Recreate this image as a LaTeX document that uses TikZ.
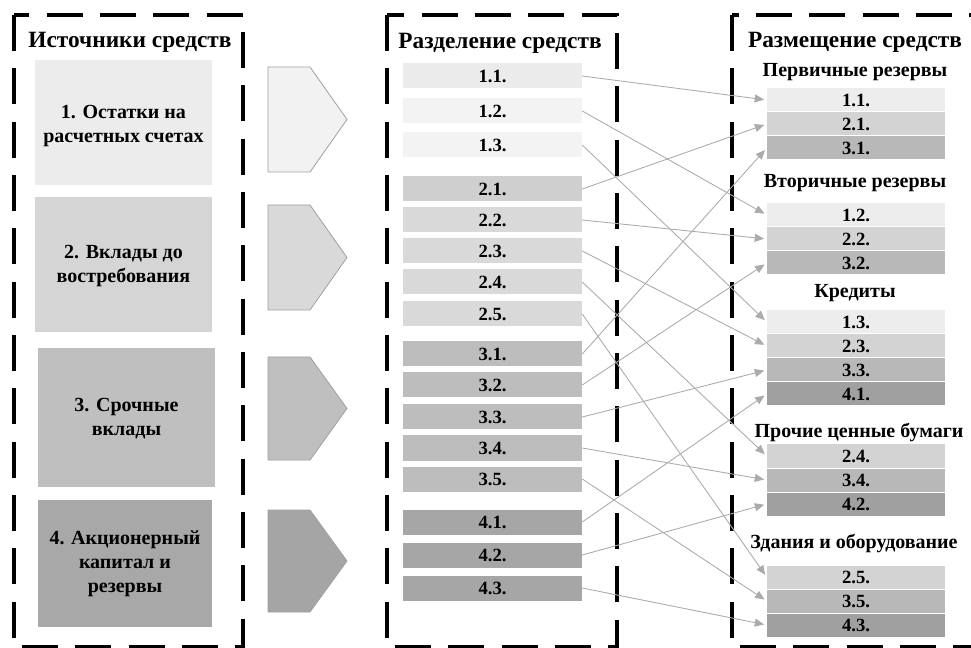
\documentclass[tikz,border=0pt]{standalone}
\usepackage{fontspec}
\setmainfont{Liberation Serif}
\usetikzlibrary{arrows.meta}
\definecolor{sA}{HTML}{ECECEC}
\definecolor{sB}{HTML}{D5D5D5}
\definecolor{sC}{HTML}{BFBFBF}
\definecolor{sD}{HTML}{A8A8A8}
\definecolor{mA}{HTML}{EBEBEB}
\definecolor{mAl}{HTML}{F3F3F3}
\definecolor{mBd}{HTML}{CFCFCF}
\definecolor{mB}{HTML}{D9D9D9}
\definecolor{mC}{HTML}{BDBDBD}
\definecolor{mD}{HTML}{A6A6A6}
\definecolor{rA}{HTML}{EDEDED}
\definecolor{rB}{HTML}{D3D3D3}
\definecolor{rC}{HTML}{B8B8B8}
\definecolor{rD}{HTML}{A0A0A0}
\definecolor{pA}{HTML}{F2F2F2}
\definecolor{pB}{HTML}{D9D9D9}
\definecolor{pC}{HTML}{BFBFBF}
\definecolor{pD}{HTML}{A5A5A5}
\definecolor{conncol}{HTML}{ABABAB}
\definecolor{edgecol}{HTML}{A0A0A0}
\begin{document}
\begin{tikzpicture}[x=0.75pt,y=-0.75pt,
  frame/.style={line width=3pt,dash pattern=on 27pt off 13pt,black},
  title/.style={font=\bfseries\fontsize{17.5}{19}\selectfont,inner sep=0},
  srctext/.style={font=\bfseries\fontsize{15}{18}\selectfont,align=center,inner sep=0},
  midbar/.style={minimum width=179*0.75pt,minimum height=25*0.75pt,inner sep=0,
     font=\bfseries\fontsize{14}{14}\selectfont},
  rbar/.style={minimum width=178*0.75pt,minimum height=23*0.75pt,inner sep=0,
     font=\bfseries\fontsize{14}{14}\selectfont},
  rhead/.style={font=\bfseries\fontsize{15}{16}\selectfont,inner sep=0},
  chev/.style={draw=edgecol,line width=0.6pt},
  conn/.style={draw=conncol,line width=0.65pt,shorten >=2pt,
     -{Triangle[length=7pt,width=6pt]}}]
\useasboundingbox (0,0) rectangle (971,648);
\clip (0,0) rectangle (971,648);
\fill[white] (0,0) rectangle (971,648);

% frames
\draw[frame] (14,15) rectangle (243,647);
\draw[frame] (387,15) rectangle (617,647);
\draw[frame] (732,15) rectangle (1010,647);

% titles
\node[title] (t1) at (130,42) {Источники средств};
\node[title] (t2) at (500,43) {Разделение средств};
\node[title] (t3) at (855,42) {Размещение средств};

% source boxes
\fill[sA] (35,60) rectangle (212,185);
\fill[sB] (35,197) rectangle (212,332);
\fill[sC] (38,348) rectangle (215,487);
\fill[sD] (38,500) rectangle (212,627);
\node[srctext] (s1) at (123.5,126) {1. Остатки на\\расчетных счетах};
\node[srctext] (s2) at (123.5,266) {2. Вклады до\\востребования};
\node[srctext] (s3) at (126.5,419) {3. Срочные\\вклады};
\node[srctext] (s4) at (125,564) {4. Акционерный\\капитал и\\резервы};

% chevrons
\draw[chev,fill=pA] (268,67) -- (310,67) -- (347,119.5) -- (310,172) -- (268,172) -- cycle;
\draw[chev,fill=pB] (268,205) -- (310,205) -- (347,257.5) -- (310,310) -- (268,310) -- cycle;
\draw[chev,fill=pC] (268,357) -- (310,357) -- (347,408.5) -- (310,460) -- (268,460) -- cycle;
\draw[chev,fill=pD] (268,510) -- (310,510) -- (347,561) -- (310,612) -- (268,612) -- cycle;

% middle bars
\node[midbar,fill=mA]  (m11) at (492.5,76) {1.1.};
\node[midbar,fill=mAl] (m12) at (492.5,111) {1.2.};
\node[midbar,fill=mAl] (m13) at (492.5,145) {1.3.};
\node[midbar,fill=mBd] (m21) at (492.5,189) {2.1.};
\node[midbar,fill=mB]  (m22) at (492.5,220) {2.2.};
\node[midbar,fill=mB]  (m23) at (492.5,251) {2.3.};
\node[midbar,fill=mB]  (m24) at (492.5,282) {2.4.};
\node[midbar,fill=mB]  (m25) at (492.5,314) {2.5.};
\node[midbar,fill=mC]  (m31) at (492.5,354) {3.1.};
\node[midbar,fill=mC]  (m32) at (492.5,385) {3.2.};
\node[midbar,fill=mC]  (m33) at (492.5,417) {3.3.};
\node[midbar,fill=mC]  (m34) at (492.5,448) {3.4.};
\node[midbar,fill=mC]  (m35) at (492.5,479) {3.5.};
\node[midbar,fill=mD]  (m41) at (492.5,522) {4.1.};
\node[midbar,fill=mD]  (m42) at (492.5,555) {4.2.};
\node[midbar,fill=mD]  (m43) at (492.5,588) {4.3.};

% right headings
\node[rhead] (h1) at (855,72) {Первичные резервы};
\node[rhead] (h2) at (855,183) {Вторичные резервы};
\node[rhead] (h3) at (855,293) {Кредиты};
\node[rhead] (h4) at (859,433) {Прочие ценные бумаги};
\node[rhead] (h5) at (854,543) {Здания и оборудование};

% right bars
\node[rbar,fill=rA] (r11) at (856,100) {1.1.};
\node[rbar,fill=rB] (r21) at (856,124) {2.1.};
\node[rbar,fill=rC] (r31) at (856,148) {3.1.};
\node[rbar,fill=rA] (r12) at (856,215) {1.2.};
\node[rbar,fill=rB] (r22) at (856,239) {2.2.};
\node[rbar,fill=rC] (r32) at (856,263) {3.2.};
\node[rbar,fill=rA] (r13) at (856,322) {1.3.};
\node[rbar,fill=rB] (r23) at (856,346) {2.3.};
\node[rbar,fill=rC] (r33) at (856,370) {3.3.};
\node[rbar,fill=rD] (r41) at (856,394) {4.1.};
\node[rbar,fill=rB] (r24) at (856,456) {2.4.};
\node[rbar,fill=rC] (r34) at (856,480) {3.4.};
\node[rbar,fill=rD] (r42) at (856,504) {4.2.};
\node[rbar,fill=rB] (r25) at (856,577) {2.5.};
\node[rbar,fill=rC] (r35) at (856,601) {3.5.};
\node[rbar,fill=rD] (r43) at (856,625) {4.3.};

% connectors
\foreach \a in {11,12,13,21,22,23,24,25,31,32,33,34,35,41,42,43}
  \draw[conn] (m\a.east) -- (r\a.west);
\end{tikzpicture}
\end{document}
